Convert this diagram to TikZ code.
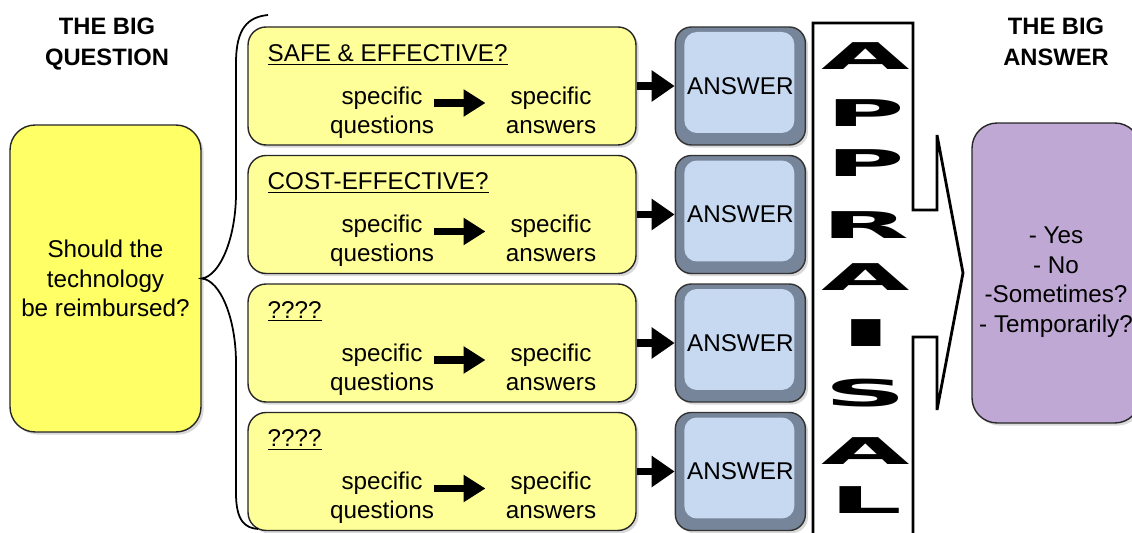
\documentclass[tikz,border=0pt]{standalone}
\usepackage{fontspec}
\setmainfont{Liberation Sans}
\newfontfamily\letterfont{DejaVu Sans}
\usepackage{graphicx}
\usepackage{tikz}
\usetikzlibrary{arrows.meta, positioning, calc, shadows}
\definecolor{cBigQ}{RGB}{255,255,102}
\definecolor{cQ}{RGB}{255,255,153}
\definecolor{cAnsIn}{RGB}{198,217,241}
\definecolor{cAnsRim}{RGB}{118,133,153}
\definecolor{cBigA}{RGB}{191,169,212}
\tikzset{
	soft/.style     ={drop shadow={shadow xshift=1.5pt, shadow yshift=-1.5pt, opacity=0.3}},
	bigbox/.style   ={rectangle, rounded corners=0.5cm, draw=black!85, line width=0.8pt, align=center, minimum width=3.82cm, minimum height=6.14cm, font=\fontsize{13.8}{16.8}\selectfont, soft},
	bigtext/.style  ={font=\fontsize{13.8}{16.8}\selectfont, align=center, inner sep=0pt},
	qbox/.style     ={rectangle, rounded corners=0.36cm, draw=black!85, line width=0.8pt, fill=cQ, minimum width=7.76cm, minimum height=2.36cm, soft},
	qtitle/.style   ={font=\fontsize{13.8}{16.8}\selectfont, inner sep=0pt},
	spec/.style     ={font=\fontsize{13.8}{16.6}\selectfont, align=center, inner sep=0pt},
	ansbox/.style   ={rectangle, rounded corners=0.32cm, draw=black!80, line width=0.8pt, fill=cAnsRim, minimum width=2.6cm, minimum height=2.36cm, font=\fontsize{13.8}{16.8}\selectfont, soft,
		path picture={\fill[cAnsIn, rounded corners=0.25cm] ($(path picture bounding box.south west)+(0.18cm,0.24cm)$) rectangle ($(path picture bounding box.north east)+(-0.22cm,-0.1cm)$);}},
	header/.style   ={font=\fontsize{13.5}{17.5}\selectfont\bfseries, align=center},
	fat/.style      ={line width=4.5pt, -{Triangle[length=0.44cm, width=0.52cm]}},
	fatter/.style   ={line width=4.5pt, -{Triangle[length=0.46cm, width=0.6cm]}},
	brace/.style    ={line width=1pt},
	frame/.style    ={line width=1.6pt, line join=miter},
	letter/.style   ={font=\letterfont\bfseries\fontsize{21}{21}\selectfont, inner sep=0pt},
}
\begin{document}
\begin{tikzpicture}[x=0.02cm, y=0.02cm]
	\useasboundingbox (0,0) rectangle (1132,533);
	\clip (0,0) rectangle (1132,533);
	% the big question
	\node[header] (hq) at (107,489) {THE BIG\\QUESTION};
	\node[bigbox, fill=cBigQ] (qbig) at (105.5,254.5) {Should the\\technology\\be reimbursed?};
	% sub questions and answers
	\foreach \i/\yy/\ttl in {1/447/{SAFE \& EFFECTIVE?}, 2/318.5/{COST-EFFECTIVE?}, 3/190/{????}, 4/61.5/{????}} {
		\node[qbox] (q\i) at (442,\yy) {};
		\node[qtitle, anchor=base west] (t\i) at ($(q\i.north west)+(20,-35)$) {\underline{\ttl}};
		\node[spec] (sq\i) at ($(q\i.center)+(-60,-26.5)$) {specific\\questions};
		\node[spec, anchor=north] (sa\i) at ($(sq\i.north)+(169,0)$) {specific\\answers};
		\draw[fat, shorten >=0.4cm] ($(sq\i.east)+(0,9.5)$) -- ($(sa\i.west |- sq\i.east)+(0,9.5)$);
		\node[ansbox, right=0.76cm of q\i] (a\i) {ANSWER};
		\draw[fatter] (q\i) -- (a\i);
	}
	% brace
	\coordinate (btop) at (268,518);
	\coordinate (bbot) at (258,4);
	\draw[brace] (btop) .. controls (248,516) and (236,505) .. (236,470) -- (236,340)
		.. controls (236,295) and (220,257) .. (qbig.east)
		.. controls (220,253) and (236,215) .. (236,170) -- (236,40)
		.. controls (236,12) and (245,5) .. (bbot);
	% appraisal
	\draw[frame] (813,-4) -- (813,510) -- (913,510) -- (913,323) -- (937,323) -- (937,398) -- (963,260)
		-- (937,123) -- (937,196) -- (913,196) -- (913,-4) -- cycle;
	\foreach \ch/\yy/\sx [count=\k] in {A/476.5/3.1, P/420/2.9, P/370/2.9, R/308/3.1, A/256/3.1, I/200/4.2, S/140/3.1, A/82/3.1, L/33/3.1}
		\node[letter] (ap\k) at (866,\yy) {\scalebox{\sx}[1]{\ch}};
	% the big answer
	\node[header] (ha) at (1056,491) {THE BIG\\ANSWER};
	\node[bigbox, fill=cBigA, minimum width=3.36cm, minimum height=6cm] (abig) at (1056,260) {};
	\node[bigtext] (atext) at (1056,251) {- Yes\\- No\\-Sometimes?\\- Temporarily?};
\end{tikzpicture}
\end{document}
